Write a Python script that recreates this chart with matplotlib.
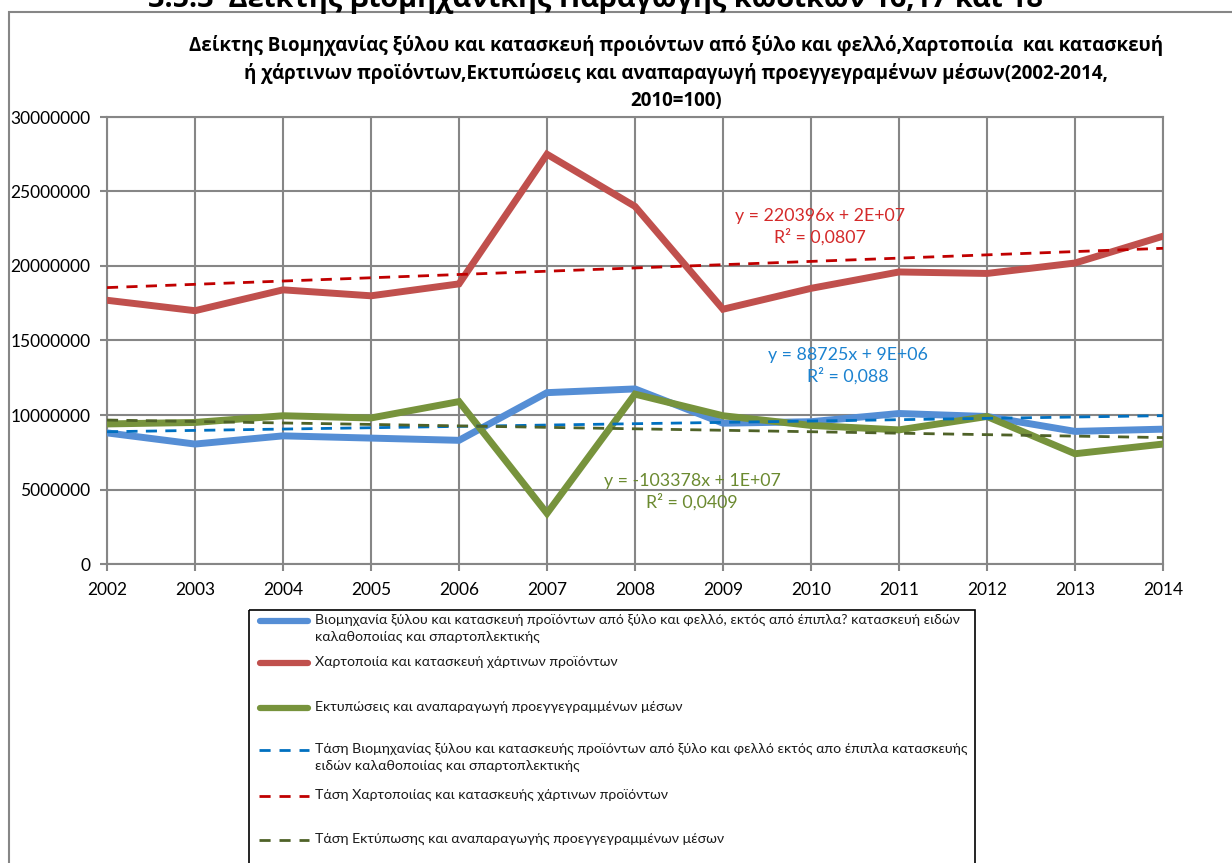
import numpy as np
import matplotlib.pyplot as plt
from matplotlib.lines import Line2D
from matplotlib.patches import Rectangle

years = [2002, 2003, 2004, 2005, 2006, 2007, 2008, 2009, 2010, 2011, 2012, 2013, 2014]

# index values
wood = [8.8e6, 8.05e6, 8.6e6, 8.45e6, 8.3e6, 11.5e6, 11.75e6, 9.45e6, 9.55e6, 10.1e6, 9.9e6, 8.9e6, 9.05e6]
paper = [17.7e6, 17.0e6, 18.4e6, 18.0e6, 18.8e6, 27.5e6, 24.0e6, 17.1e6, 18.5e6, 19.6e6, 19.5e6, 20.2e6, 22.0e6]
printing = [9.4e6, 9.5e6, 9.95e6, 9.8e6, 10.9e6, 3.4e6, 11.4e6, 9.95e6, 9.3e6, 9.0e6, 9.9e6, 7.4e6, 8.05e6]

yticks = [0, 5000000, 10000000, 15000000, 20000000, 25000000, 30000000]

labels = [
    "Βιομηχανία ξύλου και κατασκευή προϊόντων από ξύλο και φελλό, εκτός από έπιπλα? κατασκευή ειδών\nκαλαθοποιίας και σπαρτοπλεκτικής",
    "Χαρτοποιία και κατασκευή χάρτινων προϊόντων",
    "Εκτυπώσεις και αναπαραγωγή προεγγεγραμμένων μέσων",
    "Τάση Βιομηχανίας ξύλου και κατασκευής προϊόντων από ξύλο και φελλό εκτός απο έπιπλα κατασκευής\nειδών καλαθοποιίας και σπαρτοπλεκτικής",
    "Τάση Χαρτοποιίας και κατασκευής χάρτινων προϊόντων",
    "Τάση Εκτύπωσης και αναπαραγωγής προεγγεγραμμένων μέσων",
]
equations = ["y = 88725x + 9E+06\nR² = 0,088",
             "y = 220396x + 2E+07\nR² = 0,0807",
             "y = -103378x + 1E+07\nR² = 0,0409"]

line_colors = ["#558ED5", "#C0504D", "#77933C"]
trend_colors = ["#0070C0", "#C00000", "#4F6228"]
eq_colors = ["#1B82D0", "#D42A2A", "#6B8A30"]

plt.rcParams['font.family'] = ['Lato', 'DejaVu Sans']

W, H = 1232, 863
fig = plt.figure(figsize=(W / 100, H / 100), dpi=100)

def fx(px):
    return px / W

def fy(py):
    return 1 - py / H

# outer chart border
fig.add_artist(Rectangle((fx(9), fy(900)), fx(1300), 900 / H - 12 / H, transform=fig.transFigure,
                         fill=False, edgecolor="#868686", lw=1.5))

# page heading, mostly cut off at the top
fig.text(fx(595), fy(7), "3.5.3  Δείκτης βιομηχανικής Παραγωγής κωδικών 16,17 και 18",
         ha="center", va="baseline", fontsize=20.8, fontweight="bold", color="black",
         family=["Open Sans", "DejaVu Sans"])

fig.text(fx(676), fy(73),
         "Δείκτης Βιομηχανίας ξύλου και κατασκευή προιόντων από ξύλο και φελλό,Χαρτοποιία  και κατασκευή\n"
         "ή χάρτινων προϊόντων,Εκτυπώσεις και αναπαραγωγή προεγγεγραμένων μέσων(2002-2014,\n"
         "2010=100)",
         ha="center", va="center", fontsize=13.5, fontweight="bold", linespacing=1.42,
         family=["Open Sans", "DejaVu Sans"])

ax = fig.add_axes([fx(107), fy(564), fx(1163) - fx(107), fy(117) - fy(564)])

x = np.array(years)
series = [wood, paper, printing]
for vals, c in zip(series, line_colors):
    ax.plot(x, vals, color=c, lw=5, solid_joinstyle="miter", zorder=3)

# linear trendlines like Excel
for vals, c in zip(series, trend_colors):
    k, b = np.polyfit(x, vals, 1)
    ax.plot(x, k * x + b, color=c, lw=2, ls=(0, (4, 3)), zorder=4)

eq_pos = [(2010.42, 13.3e6), (2010.1, 22.6e6), (2008.65, 4.87e6)]
for (ex, ey), txt, c in zip(eq_pos, equations, eq_colors):
    ax.text(ex, ey, txt, color=c, ha="center", va="center", fontsize=12.8, linespacing=1.3, zorder=5)

ax.set_xlim(2002, 2014)
ax.set_ylim(0, 30000000)
ax.set_xticks(years)
ax.set_yticks(yticks)
ax.set_yticklabels([str(v) for v in yticks])
ax.grid(True, color="#868686", lw=1.5)
ax.set_axisbelow(True)
for s in ax.spines.values():
    s.set_color("#868686")
    s.set_linewidth(1.5)
ax.tick_params(axis="both", colors="#868686", labelcolor="black", labelsize=12.5, length=5, width=1.5)
ax.tick_params(axis="x", pad=8)
ax.tick_params(axis="y", pad=7)

# legend drawn in pixel coordinates
lax = fig.add_axes([0, 0, 1, 1], facecolor="none")
lax.set_xlim(0, W)
lax.set_ylim(H, 0)
lax.axis("off")
lax.add_patch(Rectangle((249, 610), 726, 300, fill=False, edgecolor="black", lw=1.2))
rows = [621, 663, 708, 750, 796, 840]
handles = [(line_colors[0], "-"), (line_colors[1], "-"), (line_colors[2], "-"),
           (trend_colors[0], "--"), (trend_colors[1], "--"), (trend_colors[2], "--")]
for ry, (c, ls), lab in zip(rows, handles, labels):
    if ls == "-":
        lax.add_line(Line2D([260, 308], [ry, ry], color=c, lw=4.5, solid_capstyle="round"))
    else:
        lax.add_line(Line2D([259, 309], [ry, ry], color=c, lw=2, ls=(0, (4, 3.2))))
    lax.text(315, ry - 7, lab, ha="left", va="top", fontsize=10.2, linespacing=1.42,
             color="#1a1a1a")

fig.savefig("out.png", dpi=100)
